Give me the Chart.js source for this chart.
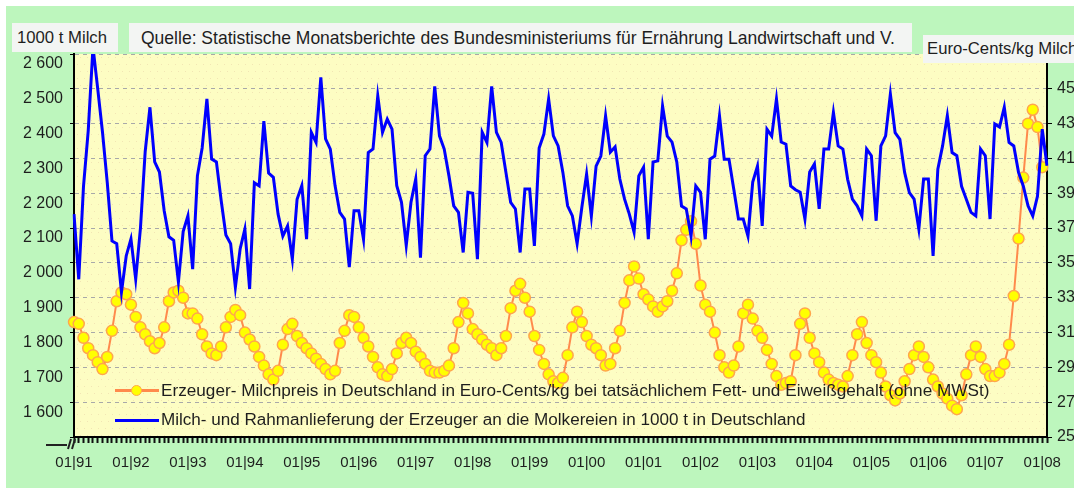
<!DOCTYPE html>
<html>
<head>
<meta charset="utf-8">
<script src="https://cdn.jsdelivr.net/npm/chart.js@4.4.1/dist/chart.umd.min.js"></script>
<style>
  html, body { margin: 0; padding: 0; background: #fff; }
  #wrap { position: relative; width: 1074px; height: 491px; overflow: hidden; font-family: "Liberation Sans", Arial, sans-serif; color: #1e1e1e; }
  #bg { position: absolute; left: 6px; top: 6px; width: 1068px; height: 482px; background: #bdf6bd; }
  #chart { position: absolute; left: 0; top: 0; }
  .box { position: absolute; background: #f3f5f3; white-space: nowrap; overflow: hidden; }
  .box span, .leg span.txt { position: absolute; white-space: nowrap; }
  .leg { position: absolute; left: 115px; height: 24px; width: 900px; }
  .leg .line { position: absolute; left: 0; width: 44px; top: 11px; }
  .leg .dot { position: absolute; left: 16px; top: 7px; width: 9px; height: 9px; border-radius: 50%; background: #ffff00; border: 1.5px solid #ffa64d; }
</style>
</head>
<body>
<div id="wrap">
  <div id="bg"></div>
  <canvas id="chart" width="1074" height="491"></canvas>

  <div class="box" style="left:12px; top:23px; width:106px; height:29px;">
    <span class="fit" data-w="90" style="left:5px; top:5px;">1000 t Milch</span>
  </div>
  <div class="box" style="left:129px; top:23px; width:783px; height:29px;">
    <span class="fit" data-w="754" style="left:12px; top:5px;">Quelle: Statistische Monatsberichte des Bundesministeriums für Ernährung Landwirtschaft und V.</span>
  </div>
  <div class="box" style="left:923px; top:35px; width:160px; height:28px;">
    <span style="left:4px; top:4px; font-size:16.7px;">Euro-Cents/kg Milch</span>
  </div>

  <div class="leg" style="top:378px;">
    <div class="line" style="height:2.5px; background:#ff8a4c;"></div>
    <div class="dot"></div>
    <span class="txt fit" data-w="829" style="left:46px; top:2px;">Erzeuger- Milchpreis in Deutschland in Euro-Cents/kg bei tatsächlichem Fett- und Eiweißgehalt (ohne MWSt)</span>
  </div>
  <div class="leg" style="top:408px;">
    <div class="line" style="height:3px; background:#0000ff;"></div>
    <span class="txt fit" data-w="645" style="left:46px; top:2px;">Milch- und Rahmanlieferung der Erzeuger an die Molkereien in 1000 t in Deutschland</span>
  </div>
</div>

<script>
// Monatswerte 01/1991 - 02/2008
const years = ['91', '92', '93', '94', '95', '96', '97', '98', '99', '00', '01', '02', '03', '04', '05', '06', '07', '08'];
const months = ['01', '02', '03', '04', '05', '06', '07', '08', '09', '10', '11', '12'];

// Milch- und Rahmanlieferung, 1000 t
const milkDelivery = [
    2140, 1953, 2220, 2380, 2620, 2500, 2376, 2232, 2063, 2055, 1916, 2020, // 1991
    2069, 1953, 2100, 2320, 2447, 2290, 2261, 2150, 2075, 2065, 1945, 2090, // 1992
    2135, 1982, 2250, 2330, 2471, 2298, 2290, 2180, 2080, 2055, 1930, 2040, // 1993
    2097, 1925, 2230, 2221, 2407, 2258, 2246, 2140, 2077, 2106, 2011, 2183, // 1994
    2222, 2068, 2375, 2346, 2533, 2356, 2327, 2222, 2145, 2126, 1988, 2150, // 1995
    2150, 2068, 2317, 2327, 2480, 2375, 2413, 2384, 2222, 2174, 2050, 2174, // 1996
    2241, 2015, 2308, 2327, 2507, 2365, 2327, 2250, 2164, 2145, 2030, 2203, // 1997
    2200, 2011, 2375, 2346, 2507, 2375, 2346, 2260, 2174, 2155, 2030, 2212, // 1998
    2212, 2049, 2330, 2370, 2471, 2365, 2336, 2260, 2164, 2135, 2055, 2160, // 1999
    2255, 2134, 2278, 2307, 2422, 2318, 2333, 2241, 2183, 2140, 2088, 2250, // 2000
    2275, 2068, 2290, 2293, 2451, 2364, 2347, 2290, 2163, 2155, 2077, 2221, // 2001
    2203, 2068, 2298, 2307, 2422, 2298, 2298, 2212, 2126, 2126, 2077, 2232, // 2002
    2278, 2106, 2384, 2364, 2471, 2347, 2341, 2221, 2210, 2203, 2126, 2261, // 2003
    2284, 2155, 2327, 2327, 2432, 2336, 2327, 2240, 2183, 2164, 2135, 2327, // 2004
    2308, 2121, 2336, 2365, 2485, 2374, 2355, 2260, 2202, 2183, 2097, 2241, // 2005
    2241, 2020, 2269, 2336, 2423, 2317, 2308, 2220, 2183, 2145, 2135, 2327, // 2006
    2308, 2126, 2399, 2390, 2447, 2346, 2336, 2260, 2221, 2164, 2135, 2192, // 2007
    2384, 2279                                                              // 2008
];

// Erzeuger-Milchpreis, Euro-Cents/kg
const milkPrice = [
    31.6, 31.5, 30.7, 30.1, 29.7, 29.3, 28.9, 29.6, 31.1, 32.8, 33.3, 33.2, // 1991
    32.6, 31.9, 31.3, 30.9, 30.5, 30.1, 30.4, 31.3, 32.8, 33.3, 33.4, 33.0, // 1992
    32.1, 32.1, 31.8, 30.9, 30.2, 29.8, 29.7, 30.2, 31.3, 31.9, 32.3, 32.0, // 1993
    31.0, 30.6, 30.2, 29.6, 29.1, 28.6, 28.3, 28.8, 30.3, 31.2, 31.5, 30.8, // 1994
    30.4, 30.1, 29.8, 29.5, 29.2, 28.9, 28.6, 28.8, 30.4, 31.1, 32.0, 31.9, // 1995
    31.3, 30.7, 30.2, 29.6, 29.0, 28.6, 28.5, 28.9, 29.8, 30.4, 30.7, 30.4, // 1996
    29.9, 29.6, 29.2, 28.8, 28.7, 28.7, 28.8, 29.1, 30.1, 31.6, 32.7, 32.1, // 1997
    31.2, 30.9, 30.6, 30.3, 30.1, 29.7, 30.1, 30.8, 32.4, 33.4, 33.8, 33.0, // 1998
    32.2, 30.8, 30.0, 29.2, 28.6, 28.2, 28.1, 28.4, 29.7, 31.3, 32.2, 31.6, // 1999
    30.8, 30.3, 30.1, 29.7, 29.1, 29.2, 30.1, 31.1, 32.7, 34.0, 34.8, 34.1, // 2000
    33.2, 32.9, 32.5, 32.2, 32.5, 32.8, 33.4, 34.4, 36.3, 36.9, 37.4, 36.1, // 2001
    33.7, 32.6, 32.2, 31.0, 29.7, 29.0, 28.7, 29.1, 30.2, 32.1, 32.6, 31.8, // 2002
    31.1, 30.7, 30.0, 29.2, 28.5, 28.0, 28.1, 28.2, 29.7, 31.5, 32.1, 30.7, // 2003
    29.8, 29.3, 28.7, 28.3, 28.1, 28.0, 27.9, 28.5, 29.7, 30.9, 31.6, 30.4, // 2004
    29.7, 29.3, 28.7, 27.9, 27.4, 27.1, 27.5, 28.2, 28.9, 29.7, 30.2, 29.6, // 2005
    29.0, 28.3, 27.9, 27.5, 27.2, 26.8, 26.6, 27.4, 28.6, 29.7, 30.2, 29.6, // 2006
    28.9, 28.5, 28.5, 28.7, 29.2, 30.3, 33.1, 36.4, 39.9, 43.0, 43.8, 42.8, // 2007
    40.5, null                                                              // 2008
];

const leftRange = [1500, 2600];   // 1000 t
const rightRange = [25, 47];      // Euro-Cents/kg

let labels = [];
years.forEach(function (y) {
    months.forEach(function (m) {
        if (labels.length < milkDelivery.length) labels.push(m + '|' + y);
    });
});

Chart.defaults.font.family = '"Liberation Sans", Arial, sans-serif';
Chart.defaults.color = '#1e1e1e';

// gelber Plotbereich
const plotBackground = {
    id: 'plotBackground',
    beforeDraw(chart) {
        const a = chart.chartArea;
        const c = chart.ctx;
        c.save();
        c.fillStyle = '#fdfdc3';
        c.fillRect(a.left, a.top, a.right - a.left, a.bottom - a.top);
        c.fillStyle = '#f2e6b4';
        for (let y = a.top + 3; y < a.bottom; y += 7) {
            for (let x = a.left + 3 + (y % 2) * 3; x < a.right; x += 7) {
                c.fillRect(x, y, 1, 1);
            }
        }
        c.restore();
    },
    afterDraw(chart) {
        // Achsenbruch unten links
        const a = chart.chartArea;
        const c = chart.ctx;
        c.save();
        c.strokeStyle = '#222';
        c.lineWidth = 2;
        c.beginPath();
        c.moveTo(46, a.bottom + 8);
        c.lineTo(67, a.bottom + 8);
        c.moveTo(68, a.bottom + 12);
        c.lineTo(71, a.bottom + 2);
        c.moveTo(72, a.bottom + 12);
        c.lineTo(75, a.bottom + 2);
        c.stroke();
        c.restore();
    }
};

let MilkChart = new Chart(document.getElementById('chart'), {
    type: 'line',
    data: {
        labels: labels,
        datasets: [{
            label: 'Milch- und Rahmanlieferung der Erzeuger an die Molkereien in 1000 t in Deutschland',
            data: milkDelivery,
            yAxisID: 'y',
            borderColor: '#0000ff',
            borderWidth: 3,
            pointRadius: 0,
            tension: 0,
        }, {
            label: 'Erzeuger- Milchpreis in Deutschland in Euro-Cents/kg bei tatsächlichem Fett- und Eiweißgehalt (ohne MWSt)',
            data: milkPrice,
            yAxisID: 'y1',
            borderColor: '#ff8a4c',
            borderWidth: 2,
            pointRadius: 5.5,
            pointBackgroundColor: '#ffff00',
            pointBorderColor: '#ffa64d',
            pointBorderWidth: 1.5,
            tension: 0,
        }]
    },
    options: {
        responsive: false,
        animation: false,
        layout: {
            padding: { top: 54, left: 0, right: 0, bottom: 0 }
        },
        plugins: {
            legend: { display: false },
            tooltip: { enabled: false }
        },
        scales: {
            x: {
                grid: {
                    drawOnChartArea: false,
                    tickLength: 6,
                    tickWidth: 2,
                    tickColor: '#111'
                },
                border: { color: '#000', width: 2 },
                ticks: {
                    autoSkip: false,
                    maxRotation: 0,
                    minRotation: 0,
                    padding: 11,
                    font: { size: 15 },
                    callback: function (value, index) {
                        return labels[index].indexOf('01|') === 0 ? labels[index] : '';
                    }
                },
                afterFit: function (scale) { scale.height = 54; }
            },
            y: {
                position: 'left',
                min: leftRange[0],
                max: leftRange[1],
                grid: {
                    color: '#a8a8a8',
                    tickColor: '#000',
                    tickLength: 4
                },
                border: { color: '#000', width: 2, dash: [4, 4] },
                ticks: {
                    stepSize: 100,
                    padding: 7,
                    labelOffset: 10,
                    font: { size: 16 },
                    callback: function (v) {
                        if (v === leftRange[0]) return '';
                        return String(v).replace(/(\d)(\d{3})$/, '$1 $2');
                    }
                },
                afterFit: function (scale) { scale.width = 74; }
            },
            y1: {
                position: 'right',
                min: rightRange[0],
                max: rightRange[1],
                grid: {
                    drawOnChartArea: false,
                    tickColor: '#000',
                    tickLength: 5
                },
                border: { color: '#000', width: 2 },
                ticks: {
                    stepSize: 2,
                    padding: 5,
                    font: { size: 16 },
                    callback: function (v) {
                        return v === rightRange[1] ? '' : String(v);
                    }
                },
                afterFit: function (scale) { scale.width = 27; }
            }
        }
    },
    plugins: [plotBackground]
});

// Textbreiten an die Vorlage anpassen
document.querySelectorAll('.fit').forEach(function (el) {
    el.style.fontSize = '16px';
    let w = el.getBoundingClientRect().width;
    el.style.fontSize = (16 * parseFloat(el.dataset.w) / w).toFixed(2) + 'px';
});
</script>
</body>
</html>
